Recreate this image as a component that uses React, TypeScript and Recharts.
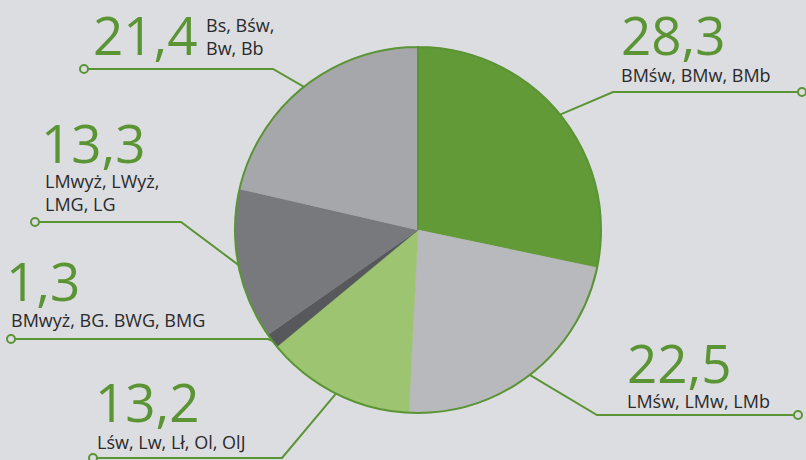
import { Cell, Pie, PieChart } from "recharts";

const values = [28.3, 22.5, 13.2, 1.3, 13.3, 21.4];
const valueLabels = ["28,3", "22,5", "13,2", "1,3", "13,3", "21,4"];
const groupLabels = [
  ["BMśw, BMw, BMb"],
  ["LMśw, LMw, LMb"],
  ["Lśw, Lw, Lł, Ol, OlJ"],
  ["BMwyż, BG. BWG, BMG"],
  ["LMwyż, LWyż,", "LMG, LG"],
  ["Bs, Bśw,", "Bw, Bb"],
];

const SLICE_COLORS = ["#629a37", "#b8b9bd", "#9dc471", "#57585b", "#78797d", "#a6a7ab"];
const GREEN = "#5b9434";
const BG = "#dcdde0";
const TEXT = "#2a2a2c";

// elbow / end point of each leader line, where the texts go
const LAYOUT = [
  { ex: 613, ey: 92, tx: 802, numX: 621, numY: 55, subX: 621, subY: 82 },
  { ex: 597, ey: 415, tx: 798, numX: 627, numY: 383, subX: 627, subY: 408 },
  { ex: 282, ey: 458, tx: 93, numX: 95, numY: 422, subX: 97, subY: 449 },
  { ex: 268, ey: 339, tx: 11, numX: 6, numY: 301, subX: 11, subY: 327 },
  { ex: 181, ey: 222, tx: 35, numX: 41, numY: 163, subX: 45, subY: 188 },
  { ex: 273, ey: 69, tx: 84, numX: 93, numY: 55, subX: 206, subY: 32 },
];

const data = values.map((v, i) => ({ name: valueLabels[i], value: v }));

const RAD = Math.PI / 180;

function renderLabel(props: any) {
  const { cx, cy, midAngle, outerRadius, index } = props;
  const l = LAYOUT[index];
  const sx = cx + outerRadius * Math.cos(-midAngle * RAD);
  const sy = cy + outerRadius * Math.sin(-midAngle * RAD);
  return (
    <g key={`lbl-${index}`}>
      <polyline
        points={`${sx},${sy} ${l.ex},${l.ey} ${l.tx},${l.ey}`}
        fill="none"
        stroke={GREEN}
        strokeWidth={2}
      />
      <circle cx={l.tx} cy={l.ey} r={4} fill={BG} stroke={GREEN} strokeWidth={2} />
      <text x={l.numX} y={l.numY} fill={GREEN} fontSize={53} fontFamily="Open Sans">
        {valueLabels[index]}
      </text>
      {groupLabels[index].map((line, j) => (
        <text
          key={j}
          x={l.subX}
          y={l.subY + j * 23}
          fill={TEXT}
          fontSize={18}
          fontFamily="Open Sans"
        >
          {line}
        </text>
      ))}
    </g>
  );
}

export default function App() {
  return (
    <div style={{ width: 806, height: 460, background: BG }}>
      <style>{"body{margin:0}"}</style>
      <PieChart width={806} height={460} margin={{ top: 0, right: 0, bottom: 0, left: 0 }}>
        <Pie
          data={data}
          dataKey="value"
          cx={418}
          cy={230}
          outerRadius={183}
          startAngle={90}
          endAngle={-270}
          label={renderLabel}
          labelLine={false}
          isAnimationActive={false}
        >
          {data.map((d, i) => (
            <Cell key={d.name} fill={SLICE_COLORS[i]} stroke={SLICE_COLORS[i]} strokeWidth={0.5} />
          ))}
        </Pie>
        <Pie
          data={[{ value: 1 }]}
          dataKey="value"
          cx={418}
          cy={230}
          outerRadius={183}
          startAngle={90}
          endAngle={-270}
          fill="none"
          stroke={GREEN}
          strokeWidth={2}
          isAnimationActive={false}
        />
      </PieChart>
    </div>
  );
}
